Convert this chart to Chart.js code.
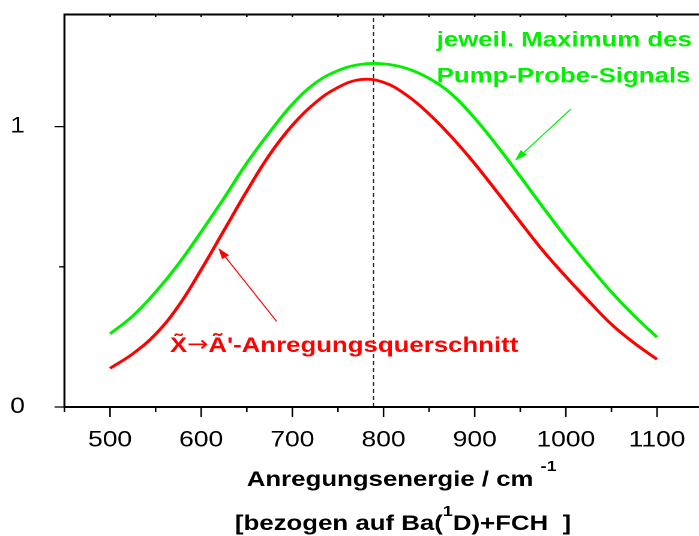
<!DOCTYPE html>
<html>
<head>
<meta charset="utf-8">
<script src="https://cdn.jsdelivr.net/npm/chart.js@4.4.1/dist/chart.umd.min.js"></script>
<style>
  html, body { margin: 0; padding: 0; background: #fff; overflow: hidden; }
  #wrap { width: 699px; height: 536px; overflow: hidden; position: relative; }
  /* the original graphic is stretched horizontally */
  #chart { transform: scaleX(1.2); transform-origin: 0 0; }
</style>
</head>
<body>
<div id="wrap"><canvas id="chart" width="590" height="536"></canvas></div>
<script>
// excitation energy, cm^-1
const energies = [500, 525, 550, 575, 600, 625, 650, 675, 700, 725, 750, 775, 800,
                  825, 850, 875, 900, 925, 950, 975, 1000, 1025, 1050, 1075, 1100];
// maximum of the pump-probe signal (green)
const pumpProbeMax = [0.261, 0.325, 0.41, 0.51, 0.625, 0.745, 0.87, 0.98, 1.08, 1.155, 1.20, 1.222, 1.224,
                      1.208, 1.172, 1.115, 1.03, 0.93, 0.822, 0.712, 0.605, 0.505, 0.41, 0.325, 0.249];
// X->A' excitation cross section (red)
const crossSection = [0.138, 0.19, 0.26, 0.36, 0.49, 0.63, 0.77, 0.90, 1.005, 1.085, 1.14, 1.168, 1.158,
                      1.113, 1.045, 0.962, 0.868, 0.765, 0.66, 0.557, 0.465, 0.378, 0.295, 0.228, 0.170];
const peakEnergy = 789;
const xMajorTicks = [500, 600, 700, 800, 900, 1000, 1100];
const yMajorTicks = [0, 1];

const GREEN = '#00f000';
const RED = '#ff0000';
const FONT = '"Liberation Sans", Arial, Helvetica, sans-serif';

function arrow(ctx, x0, y0, x1, y1, color) {
  const a = Math.atan2(y1 - y0, x1 - x0);
  ctx.save();
  ctx.strokeStyle = color;
  ctx.fillStyle = color;
  ctx.lineWidth = 1;
  ctx.beginPath();
  ctx.moveTo(x0, y0);
  ctx.lineTo(x1 - 6 * Math.cos(a), y1 - 6 * Math.sin(a));
  ctx.stroke();
  ctx.beginPath();
  ctx.moveTo(x1, y1);
  ctx.lineTo(x1 - 11 * Math.cos(a) + 3.5 * Math.sin(a), y1 - 11 * Math.sin(a) - 3.5 * Math.cos(a));
  ctx.lineTo(x1 - 11 * Math.cos(a) - 3.5 * Math.sin(a), y1 - 11 * Math.sin(a) + 3.5 * Math.cos(a));
  ctx.closePath();
  ctx.fill();
  ctx.restore();
}

// draw a run of [text, font, dy] pieces one after another
function pieces(ctx, x, y, parts) {
  parts.forEach(([t, f, dy]) => {
    ctx.font = f;
    ctx.fillText(t, x, y + dy);
    x += ctx.measureText(t).width;
  });
}

const framePlugin = {
  id: 'frame',
  afterDatasetsDraw(chart) {
    const ctx = chart.ctx;
    const xs = chart.scales.x, ys = chart.scales.y;
    const a = chart.chartArea;
    ctx.save();
    ctx.strokeStyle = '#000';
    // frame: top, left, bottom
    ctx.lineWidth = 2;
    ctx.beginPath();
    ctx.moveTo(a.left, a.top); ctx.lineTo(a.right + 10, a.top);
    ctx.moveTo(a.left, a.bottom); ctx.lineTo(a.right + 10, a.bottom);
    ctx.stroke();
    ctx.lineWidth = 1.7;
    ctx.beginPath();
    ctx.moveTo(a.left, a.top - 1); ctx.lineTo(a.left, a.bottom + 1);
    ctx.stroke();
    // x ticks
    ctx.lineWidth = 1.3;
    ctx.beginPath();
    for (let v = xs.min; v <= xs.max; v += 50) {
      const p = xs.getPixelForValue(v);
      const len = xMajorTicks.includes(v) ? 10 : 5;
      ctx.moveTo(p, a.bottom); ctx.lineTo(p, a.bottom + len);
      ctx.moveTo(p, a.top); ctx.lineTo(p, a.top + 2.5);
    }
    // y ticks
    for (let v = 0; v <= 1; v += 0.5) {
      const p = ys.getPixelForValue(v);
      const len = yMajorTicks.includes(v) ? 8.3 : 4.5;
      ctx.moveTo(a.left, p); ctx.lineTo(a.left - len, p);
    }
    ctx.stroke();

    // annotations
    const px = v => xs.getPixelForValue(v);
    const py = v => ys.getPixelForValue(v);
    arrow(ctx, px(682.8), py(0.305), px(618.8), py(0.567), RED);
    arrow(ctx, px(1005.6), py(1.063), px(944.2), py(0.879), GREEN);

    const big = 'bold 21.5px ' + FONT, small = 'bold 15px ' + FONT;
    ctx.textAlign = 'left';
    ctx.textBaseline = 'alphabetic';
    ctx.fillStyle = RED;
    pieces(ctx, px(565.8), py(0.196), [
      ['X\u0303', big, 0],
      ['\u2192', '21px "DejaVu Sans", sans-serif', -1],
      ['\u00C3\'-Anregungsquerschnitt', big, 0]
    ]);
    ctx.fillStyle = GREEN;
    ctx.font = big;
    ctx.fillText('jeweil. Maximum des', px(858.3), py(1.286));
    ctx.fillText('Pump-Probe-Signals', px(858.3), py(1.157));

    // axis title with superscripts
    ctx.fillStyle = '#000';
    pieces(ctx, 205.6, 486, [['Anregungsenergie / cm ', big, 0], ['-1', small, -15]]);
    pieces(ctx, 195.8, 530, [['[bezogen auf Ba(', big, 0], ['1', small, -14], ['D)+FCH  ]', big, 0]]);
    ctx.restore();
  }
};

const toPoints = vals => energies.map((e, i) => ({ x: e, y: vals[i] }));

new Chart(document.getElementById('chart'), {
  type: 'line',
  data: {
    datasets: [
      {
        data: toPoints(pumpProbeMax),
        borderColor: GREEN,
        borderWidth: 2.8,
        pointRadius: 0,
        tension: 0.4
      },
      {
        data: toPoints(crossSection),
        borderColor: RED,
        borderWidth: 2.8,
        pointRadius: 0,
        tension: 0.4
      },
      {
        data: [{ x: peakEnergy, y: 0 }, { x: peakEnergy, y: 1.4 }],
        borderColor: '#222',
        borderWidth: 1,
        borderDash: [4, 3],
        pointRadius: 0
      }
    ]
  },
  options: {
    responsive: false,
    animation: false,
    devicePixelRatio: 2,
    layout: { padding: { top: 14.5, right: 4.5, left: 0, bottom: 0 }, autoPadding: false },
    plugins: { legend: { display: false }, tooltip: { enabled: false } },
    scales: {
      x: {
        type: 'linear',
        min: 450,
        max: 1150,
        // tick marks are drawn by the frame plugin; tickLength only sets the label offset
        grid: { display: false, drawTicks: true, tickLength: 20 },
        border: { display: false },
        afterFit: s => { s.height = 129; },
        ticks: {
          stepSize: 50,
          padding: 0,
          color: '#000',
          font: { family: FONT, size: 22 },
          maxRotation: 0,
          autoSkip: false,
          callback: v => (xMajorTicks.includes(v) ? String(v) : '')
        }
      },
      y: {
        min: 0,
        max: 1.4,
        grid: { display: false, drawTicks: true, tickLength: 33 },
        border: { display: false },
        afterFit: s => { s.width = 53.7; },
        ticks: {
          stepSize: 0.5,
          padding: 0,
          color: '#000',
          font: { family: FONT, size: 22 },
          callback: v => (yMajorTicks.includes(v) ? String(v) : '')
        }
      }
    }
  },
  plugins: [framePlugin]
});
</script>
</body>
</html>
